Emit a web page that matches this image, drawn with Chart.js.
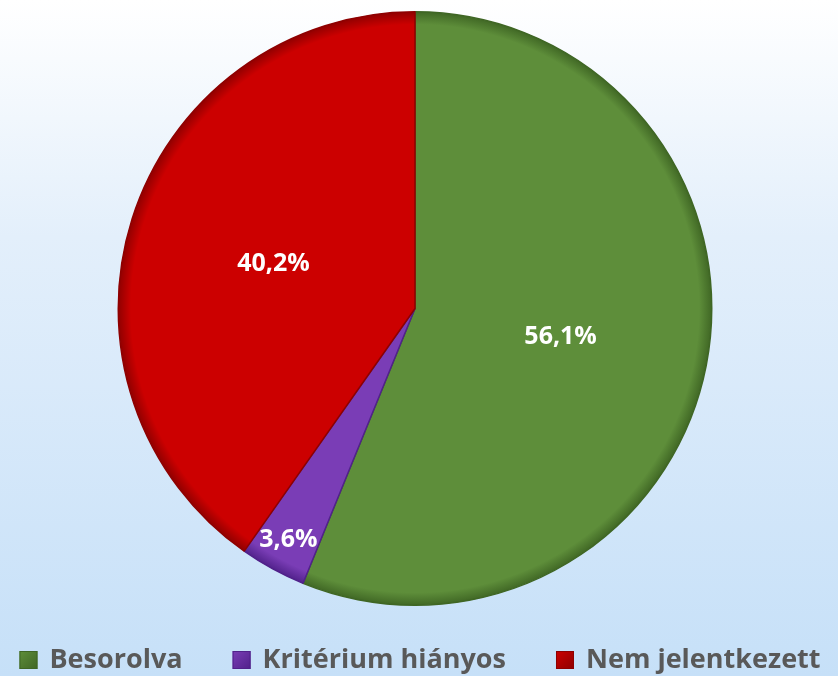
<!DOCTYPE html>
<html><head><meta charset="utf-8">
<script src="https://cdn.jsdelivr.net/npm/chart.js@4/dist/chart.umd.min.js"></script>
<style>
html,body{margin:0;padding:0;}
body{width:838px;height:676px;background:linear-gradient(to bottom,#ffffff 0%,#e3effb 35%,#c6e0f8 100%);overflow:hidden;}
#wrap{position:relative;width:838px;height:676px;}
</style></head>
<body><div id="wrap"><canvas id="c" width="838" height="676"></canvas></div>
<script>
const categories = ["Besorolva", "Kritérium hiányos", "Nem jelentkezett"];
const values = [56.1, 3.6, 40.2];
const valueLabels = ["56,1%", "3,6%", "40,2%"];
const colors = ["#5e8e3a", "#7a3db6", "#cc0000"];
const rimColors = ["#3f6624", "#50218a", "#8e0000"];
const labelOffsets = [0.5, 0.89, 0.5];

function sliceFill(ctx) {
  const chart = ctx.chart;
  const i = ctx.dataIndex;
  const area = chart.chartArea;
  if (!area) return colors[i];
  const cx = (area.left + area.right) / 2, cy = (area.top + area.bottom) / 2;
  const r = Math.min(area.right - area.left, area.bottom - area.top) / 2;
  const g = chart.ctx.createRadialGradient(cx, cy, 0, cx, cy, r);
  g.addColorStop(0, colors[i]);
  g.addColorStop(0.955, colors[i]);
  g.addColorStop(1, rimColors[i]);
  return g;
}

const labelPlugin = {
  id: 'sliceLabels',
  afterDatasetsDraw(chart) {
    const ctx = chart.ctx;
    const meta = chart.getDatasetMeta(0);
    ctx.save();
    ctx.font = "bold 25px 'Open Sans'";
    ctx.fillStyle = "#ffffff";
    ctx.textAlign = "center";
    ctx.textBaseline = "middle";
    meta.data.forEach((arc, i) => {
      const p = arc.getProps(['x','y','startAngle','endAngle','outerRadius'], true);
      const mid = (p.startAngle + p.endAngle) / 2;
      const r = p.outerRadius * labelOffsets[i];
      ctx.fillText(valueLabels[i], p.x + Math.cos(mid) * r, p.y + Math.sin(mid) * r);
    });
    ctx.restore();
  }
};

const legendPlugin = {
  id: 'bottomLegend',
  afterDraw(chart) {
    const ctx = chart.ctx;
    ctx.save();
    ctx.font = "bold 27px 'Open Sans'";
    ctx.textBaseline = "middle";
    const box = 18, gapBox = 12, gapItem = 50;
    const widths = categories.map(c => box + gapBox + ctx.measureText(c).width);
    const total = widths.reduce((a, b) => a + b, 0) + gapItem * (categories.length - 1);
    let x = 420 - total / 2;
    const y = 660;
    categories.forEach((c, i) => {
      const g = ctx.createLinearGradient(x, y - box / 2, x + box, y + box / 2);
      g.addColorStop(0, colors[i]);
      g.addColorStop(1, rimColors[i]);
      ctx.fillStyle = g;
      ctx.fillRect(x, y - box / 2, box, box);
      ctx.strokeStyle = rimColors[i];
      ctx.lineWidth = 1;
      ctx.strokeRect(x + 0.5, y - box / 2 + 0.5, box - 1, box - 1);
      ctx.fillStyle = "#595959";
      ctx.textAlign = "left";
      ctx.fillText(c, x + box + gapBox, y);
      x += widths[i] + gapItem;
    });
    ctx.restore();
  }
};

new Chart(document.getElementById('c'), {
  type: 'pie',
  data: {
    labels: categories,
    datasets: [{
      data: values,
      backgroundColor: sliceFill,
      borderColor: rimColors,
      borderWidth: 1.5
    }]
  },
  options: {
    responsive: false,
    animation: false,
    layout: { padding: { top: 11, left: 0, right: 8, bottom: 70 } },
    plugins: {
      tooltip: { enabled: false },
      legend: { display: false }
    }
  },
  plugins: [labelPlugin, legendPlugin]
});
</script></body></html>
